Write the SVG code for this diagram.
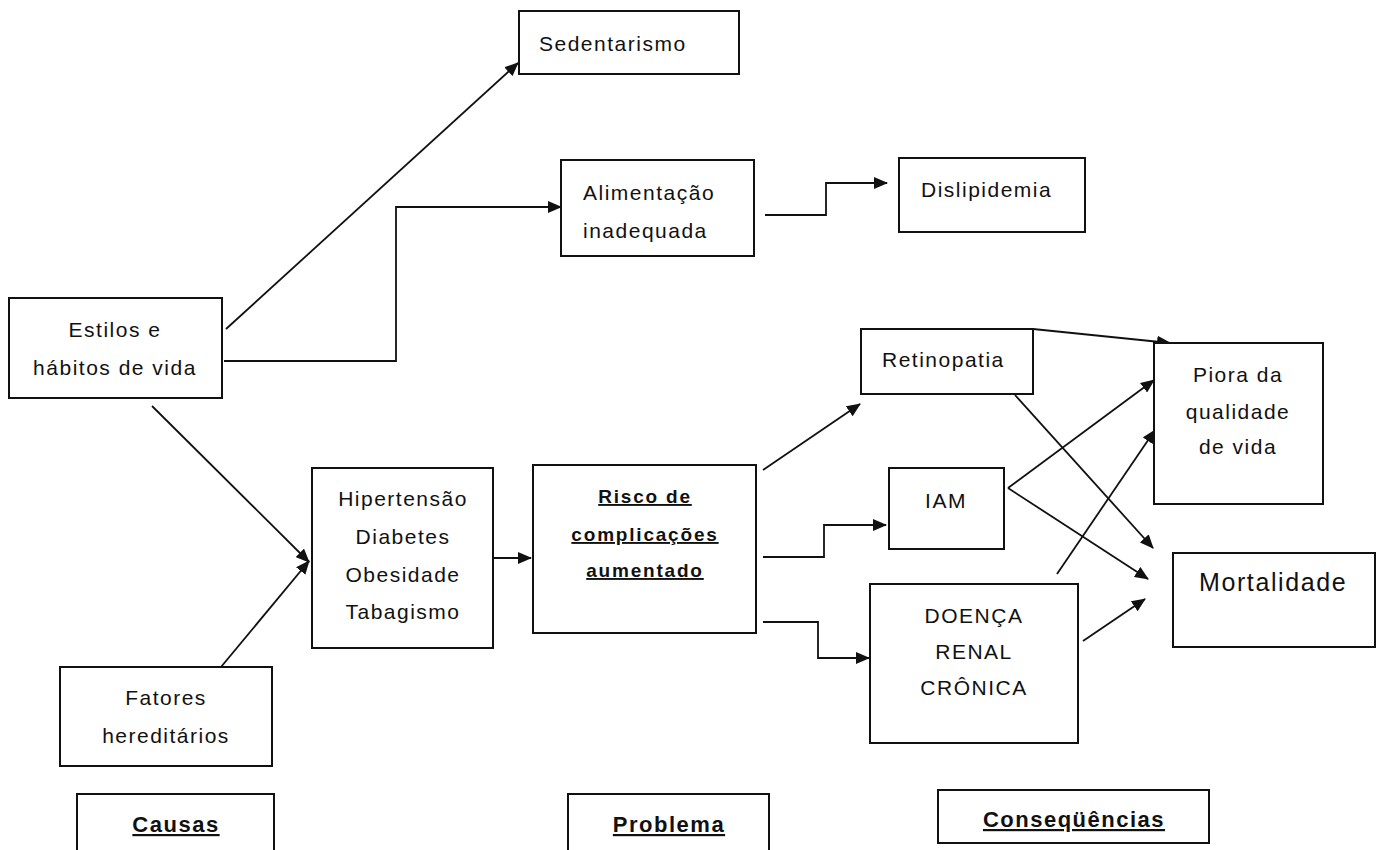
<svg xmlns="http://www.w3.org/2000/svg" width="1383" height="850" viewBox="0 0 1383 850">
<style>
.box{fill:#fff;stroke:#111;stroke-width:2}
.t{font-family:"Liberation Sans",Arial,sans-serif;font-size:21px;letter-spacing:1.5px;fill:#111}
.m{text-anchor:middle}
.b{font-family:"Liberation Sans",Arial,sans-serif;font-weight:bold;font-size:19px;letter-spacing:1.8px;fill:#111;text-decoration:underline;text-anchor:middle}
.h{font-family:"Liberation Sans",Arial,sans-serif;font-weight:bold;font-size:22px;letter-spacing:1.5px;fill:#111;text-decoration:underline;text-anchor:middle}
.c{fill:none;stroke:#111;stroke-width:1.8;marker-end:url(#ah)}
</style>
<defs>
<marker id="ah" markerUnits="userSpaceOnUse" markerWidth="14" markerHeight="12" refX="13" refY="6" orient="auto">
<path d="M0,0 L14,6 L0,12 z" fill="#111"/>
</marker>
</defs>
<rect width="1383" height="850" fill="#fff"/>

<g id="connectors">
<path class="c" d="M226,329 L518,63"/>
<path class="c" d="M224,361 L396,361 L396,207 L561,207"/>
<path class="c" d="M765,215 L826,215 L826,183 L887,183"/>
<path class="c" d="M152,406 L309,562"/>
<path class="c" d="M221,667 L309,561"/>
<path class="c" d="M494,558 L531,558"/>
<path class="c" d="M763,470 L860,404"/>
<path class="c" d="M763,557 L824,557 L824,525 L886,525"/>
<path class="c" d="M763,622 L818,622 L818,658 L869,658"/>
<path class="c" d="M1033,329 L1170,343"/>
<path class="c" d="M1015,395 L1153,548"/>
<path class="c" d="M1008,488 L1154,380"/>
<path class="c" d="M1008,488 L1148,579"/>
<path class="c" d="M1057,574 L1155,430"/>
<path class="c" d="M1083,641 L1145,599"/>
</g>

<g id="sedentarismo">
<rect class="box" x="519" y="11" width="220" height="63"/>
<text class="t" x="539" y="51">Sedentarismo</text>
</g>
<g id="alimentacao">
<rect class="box" x="561" y="160" width="193" height="96"/>
<text class="t" x="583" y="200">Alimentação</text>
<text class="t" x="583" y="238">inadequada</text>
</g>
<g id="dislipidemia">
<rect class="box" x="899" y="158" width="186" height="74"/>
<text class="t" x="921" y="197">Dislipidemia</text>
</g>
<g id="estilos">
<rect class="box" x="9" y="298" width="213" height="100"/>
<text class="t m" x="115" y="337">Estilos e</text>
<text class="t m" x="115" y="375">hábitos de vida</text>
</g>
<g id="fatores">
<rect class="box" x="60" y="667" width="212" height="99"/>
<text class="t m" x="166" y="705">Fatores</text>
<text class="t m" x="166" y="743">hereditários</text>
</g>
<g id="hipertensao">
<rect class="box" x="312" y="468" width="181" height="180"/>
<text class="t m" x="403" y="506">Hipertensão</text>
<text class="t m" x="403" y="544">Diabetes</text>
<text class="t m" x="403" y="582">Obesidade</text>
<text class="t m" x="403" y="619">Tabagismo</text>
</g>
<g id="risco">
<rect class="box" x="533" y="465" width="223" height="168"/>
<text class="b" x="645" y="503">Risco de</text>
<text class="b" x="645" y="541">complicações</text>
<text class="b" x="645" y="577">aumentado</text>
</g>
<g id="retinopatia">
<rect class="box" x="861" y="329" width="172" height="65"/>
<text class="t" x="882" y="367">Retinopatia</text>
</g>
<g id="iam">
<rect class="box" x="889" y="468" width="115" height="81"/>
<text class="t m" x="946" y="508">IAM</text>
</g>
<g id="doenca">
<rect class="box" x="870" y="584" width="208" height="159"/>
<text class="t m" x="974" y="623">DOENÇA</text>
<text class="t m" x="974" y="659">RENAL</text>
<text class="t m" x="974" y="695">CRÔNICA</text>
</g>
<g id="piora">
<rect class="box" x="1154" y="343" width="169" height="161"/>
<text class="t m" x="1238" y="382">Piora da</text>
<text class="t m" x="1238" y="419">qualidade</text>
<text class="t m" x="1238" y="454">de vida</text>
</g>
<g id="mortalidade">
<rect class="box" x="1173" y="553" width="202" height="94"/>
<text class="t" x="1199" y="591" style="font-size:25px;letter-spacing:1.6px">Mortalidade</text>
</g>
<g id="causas">
<rect class="box" x="77" y="794" width="197" height="80"/>
<text class="h" x="176" y="832">Causas</text>
</g>
<g id="problema">
<rect class="box" x="568" y="794" width="201" height="80"/>
<text class="h" x="669" y="832">Problema</text>
</g>
<g id="consequencias">
<rect class="box" x="938" y="790" width="271" height="53"/>
<text class="h" x="1074" y="827">Conseqüências</text>
</g>
</svg>
